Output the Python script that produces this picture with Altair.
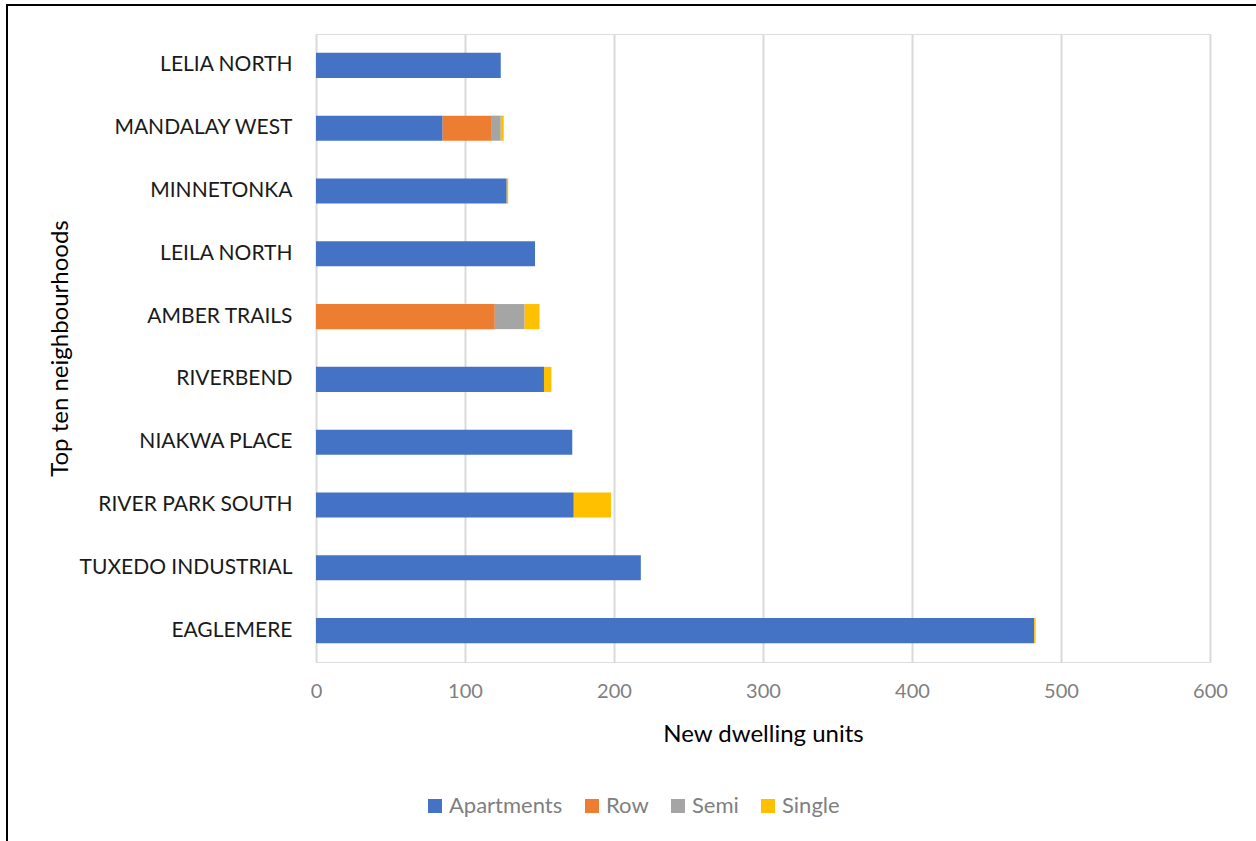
import altair as alt
import pandas as pd

neighbourhoods = ["LELIA NORTH", "MANDALAY WEST", "MINNETONKA", "LEILA NORTH", "AMBER TRAILS",
                  "RIVERBEND", "NIAKWA PLACE", "RIVER PARK SOUTH", "TUXEDO INDUSTRIAL", "EAGLEMERE"]
types = ["Apartments", "Row", "Semi", "Single"]
apartments = [124, 85, 128, 147, 0, 153, 172, 173, 218, 482]
row = [0, 33, 0, 0, 120, 0, 0, 0, 0, 0]
semi = [0, 6, 0, 0, 20, 0, 0, 0, 0, 0]
single = [0, 2, 1, 0, 10, 5, 0, 25, 0, 1]
colors = ["#4472C4", "#ED7D31", "#A5A5A5", "#FFC000"]
x_ticks = [0, 100, 200, 300, 400, 500, 600]

records = []
for series_name, vals in zip(types, [apartments, row, semi, single]):
    for n, v in zip(neighbourhoods, vals):
        if v > 0:
            records.append({"Neighbourhood": n, "Type": series_name, "Units": v,
                            "ord": types.index(series_name)})
df = pd.DataFrame(records)

FONT = "Lato"

bars = alt.Chart(df).mark_bar().encode(
    y=alt.Y("Neighbourhood:N", sort=neighbourhoods,
            scale=alt.Scale(paddingInner=0.6, paddingOuter=0.3),
            axis=alt.Axis(title="Top ten neighbourhoods", labelFontSize=21, labelColor="#1a1a1a",
                          labelFont=FONT, titleFont=FONT, titleFontSize=24, titleFontWeight="normal",
                          titleColor="#000000", ticks=False, domain=False, grid=False,
                          labelPadding=24, titlePadding=44, labelLimit=400)),
    x=alt.X("Units:Q", stack="zero",
            scale=alt.Scale(domain=[0, 600]),
            axis=alt.Axis(title="New dwelling units", values=x_ticks, labelFontSize=20,
                          labelColor="#7f7f7f", labelFont=FONT, titleFont=FONT, titleFontSize=24,
                          titleFontWeight="normal", titleColor="#000000", ticks=False, domain=False,
                          grid=True, gridColor="#d9d9d9", gridWidth=2, labelPadding=19,
                          titlePadding=21, labelFlush=False)),
    color=alt.Color("Type:N", scale=alt.Scale(domain=types, range=colors),
                    legend=alt.Legend(title=None, orient="none", direction="horizontal",
                                      legendX=108, legendY=761, symbolType="square",
                                      symbolSize=196, symbolStrokeWidth=0, labelFontSize=22,
                                      labelColor="#7f7f7f", labelFont=FONT, columnPadding=18,
                                      symbolOffset=0, labelOffset=3)),
    order=alt.Order("ord:Q", sort="ascending"),
)

border_v = alt.Chart(pd.DataFrame({"a": [0]})).mark_rule(color="#000000", strokeWidth=2).encode(
    x=alt.value(-309), y=alt.value(-29), y2=alt.value(900))
border_h = alt.Chart(pd.DataFrame({"a": [0]})).mark_rule(color="#000000", strokeWidth=2).encode(
    x=alt.value(-310), x2=alt.value(1000), y=alt.value(-29))

chart = alt.layer(bars, border_v, border_h).properties(
    width=894, height=628,
    padding={"left": 316, "top": 34, "right": 46, "bottom": 179},
    autosize=alt.AutoSizeParams(type="none"),
).configure_view(stroke=None).configure(font=FONT)

chart.save("out.html", embed_options={"renderer": "svg", "actions": False})
